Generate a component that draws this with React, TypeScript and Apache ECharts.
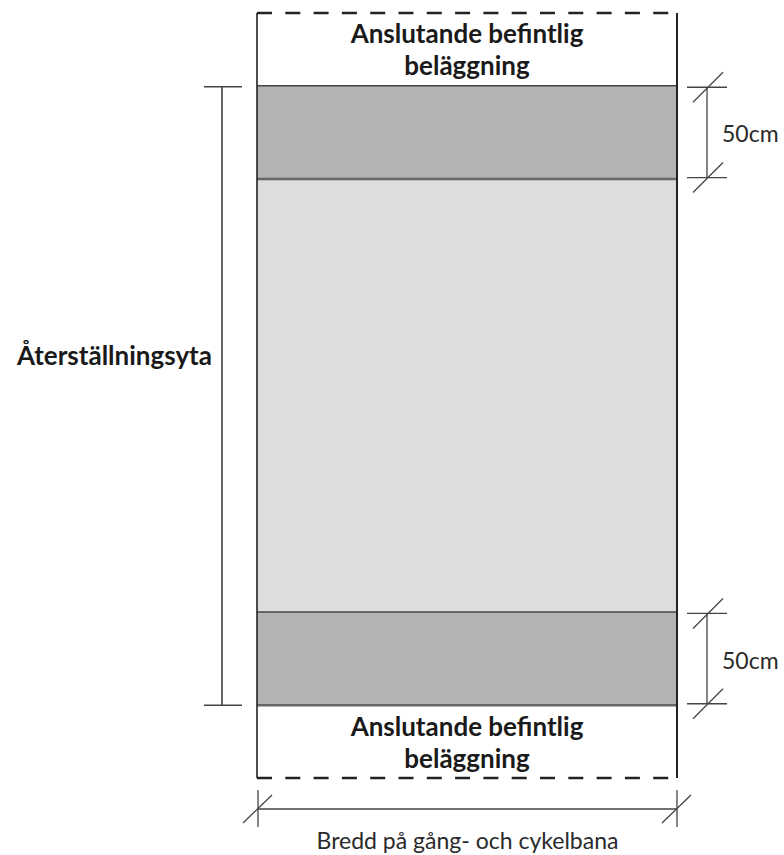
import React, { useEffect, useRef } from "react";
import * as echarts from "echarts";

// Schematic zones from top to bottom (heights in cm, schematic)
const zoneKeys = ["existingTop", "stripTop", "restore", "stripBottom", "existingBottom"];
const zoneHeights = [39, 50, 232, 50, 39];
const zoneTexts = ["Anslutande befintlig\nbeläggning", "", "", "", "Anslutande befintlig\nbeläggning"];
const pathWidth = 100;
const stripLabel = "50cm";
const restoreLabel = "Återställningsyta";
const widthLabel = "Bredd på gång- och cykelbana";

const zoneFill: Record<string, string> = {
  existingTop: "rgba(0,0,0,0)",
  stripTop: "#b3b3b3",
  restore: "#dcdddf",
  stripBottom: "#b3b3b3",
  existingBottom: "rgba(0,0,0,0)",
};

const boldFont = "bold 26px Lato, 'Open Sans', sans-serif";
const regFont = "23px Lato, 'Open Sans', sans-serif";
const ink = "#1a1a1a";
const dimInk = "#444";

let acc = 0;
const zoneData = zoneHeights.map((h, i) => {
  const s = acc;
  acc += h;
  return [s, acc, i];
});
const totalHeight = acc;
const stripDims = zoneData.filter((d) => zoneKeys[d[2]].startsWith("strip")).map((d) => [d[0], d[1]]);
const restoreSpan = [zoneData[1][0], zoneData[3][1]];

export default function App() {
  const ref = useRef<HTMLDivElement>(null);
  useEffect(() => {
    if (!ref.current) return;
    const chart = echarts.init(ref.current, null, { renderer: "svg" });

    const line = (x1: number, y1: number, x2: number, y2: number, stroke: string, w: number, dash?: number[]) => ({
      type: "line",
      shape: { x1, y1, x2, y2 },
      style: { stroke, lineWidth: w, lineDash: dash },
      silent: true,
    });

    const zoneSeries = {
      type: "custom",
      coordinateSystem: "cartesian2d",
      clip: false,
      data: zoneData,
      renderItem: (params: any, api: any) => {
        const i = api.value(2);
        const a = api.coord([0, api.value(0)]);
        const b = api.coord([pathWidth, api.value(1)]);
        const children: any[] = [
          {
            type: "rect",
            shape: { x: a[0], y: a[1], width: b[0] - a[0], height: b[1] - a[1] },
            style: { fill: zoneFill[zoneKeys[i]] },
          },
        ];
        if (zoneTexts[i]) {
          children.push({
            type: "text",
            style: {
              text: zoneTexts[i],
              x: (a[0] + b[0]) / 2,
              y: (a[1] + b[1]) / 2,
              align: "center",
              verticalAlign: "middle",
              font: boldFont,
              lineHeight: 32,
              fill: ink,
            },
          });
        }
        return { type: "group", children };
      },
    };

    const frameSeries = {
      type: "custom",
      coordinateSystem: "cartesian2d",
      clip: false,
      data: [[0, totalHeight]],
      renderItem: (params: any, api: any) => {
        const tl = api.coord([0, 0]);
        const br = api.coord([pathWidth, totalHeight]);
        const ch: any[] = [];
        // zone separators
        zoneData.slice(1).forEach((d, k) => {
          const y = api.coord([0, d[0]])[1];
          const w = k === 1 || k === 3 ? 2.5 : 1.5;
          const c = k === 1 || k === 3 ? "#666" : "#444";
          ch.push(line(tl[0], y, br[0], y, c, w));
        });
        // sides
        ch.push(line(tl[0], tl[1], tl[0], br[1], "#222", 1.6));
        ch.push(line(br[0], tl[1], br[0], br[1], "#222", 2));
        // dashed ends
        ch.push(line(tl[0], tl[1], br[0], tl[1], "#222", 2.6, [15, 13.3]));
        ch.push(line(tl[0], br[1], br[0], br[1], "#222", 2.6, [15, 13.3]));
        return { type: "group", children: ch };
      },
    };

    const dimSeries = {
      type: "custom",
      coordinateSystem: "cartesian2d",
      clip: false,
      data: [[0]],
      renderItem: (params: any, api: any) => {
        const ch: any[] = [];
        const rightX = api.coord([pathWidth, 0])[0];
        const leftX = api.coord([0, 0])[0];
        // strip dimensions (right)
        const dx = rightX + 30;
        stripDims.forEach((s) => {
          const y0 = api.coord([pathWidth, s[0]])[1] + 1.5;
          const y1 = api.coord([pathWidth, s[1]])[1] - 1.5;
          ch.push(line(dx, y0, dx, y1, dimInk, 1.3));
          [y0, y1].forEach((y) => {
            ch.push(line(dx - 20, y, dx + 20, y, dimInk, 1.3));
            ch.push(line(dx - 14, y + 15, dx + 16, y - 15, dimInk, 1.3));
          });
          ch.push({
            type: "text",
            style: {
              text: stripLabel,
              x: dx + 15,
              y: (y0 + y1) / 2 + 1,
              align: "left",
              verticalAlign: "middle",
              font: regFont,
              fill: "#2a2a2a",
            },
          });
        });
        // restore area (left)
        const lx = leftX - 35;
        const ry0 = api.coord([0, restoreSpan[0]])[1] + 1;
        const ry1 = api.coord([0, restoreSpan[1]])[1];
        ch.push(line(lx, ry0, lx, ry1, "#555", 1.8));
        ch.push(line(lx - 18, ry0, lx + 20, ry0, dimInk, 1.5));
        ch.push(line(lx - 18, ry1, lx + 20, ry1, dimInk, 1.5));
        ch.push({
          type: "text",
          style: {
            text: restoreLabel,
            x: lx - 10,
            y: 355,
            align: "right",
            verticalAlign: "middle",
            font: boldFont,
            fill: ink,
          },
        });
        // width (bottom)
        const by = api.coord([0, totalHeight])[1] + 31;
        const bx0 = leftX + 1;
        const bx1 = rightX;
        ch.push(line(bx0, by, bx1, by, dimInk, 1.3));
        [bx0, bx1].forEach((x) => {
          ch.push(line(x, by - 19, x, by + 18, dimInk, 1.3));
          ch.push(line(x - 15, by + 14, x + 14, by - 14, dimInk, 1.3));
        });
        ch.push({
          type: "text",
          style: {
            text: widthLabel,
            x: (bx0 + bx1) / 2,
            y: by + 31,
            align: "center",
            verticalAlign: "middle",
            font: regFont,
            fill: "#2a2a2a",
          },
        });
        return { type: "group", children: ch };
      },
    };

    chart.setOption({
      animation: false,
      backgroundColor: "#ffffff",
      grid: { left: 257, right: 107, top: 13, bottom: 77 },
      xAxis: { type: "value", min: 0, max: pathWidth, show: false },
      yAxis: { type: "value", min: 0, max: totalHeight, inverse: true, show: false },
      tooltip: { show: false },
      series: [zoneSeries, frameSeries, dimSeries],
    } as any);
    return () => chart.dispose();
  }, []);
  return <div ref={ref} style={{ position: "absolute", left: 0, top: 0, width: 784, height: 855 }} />;
}
